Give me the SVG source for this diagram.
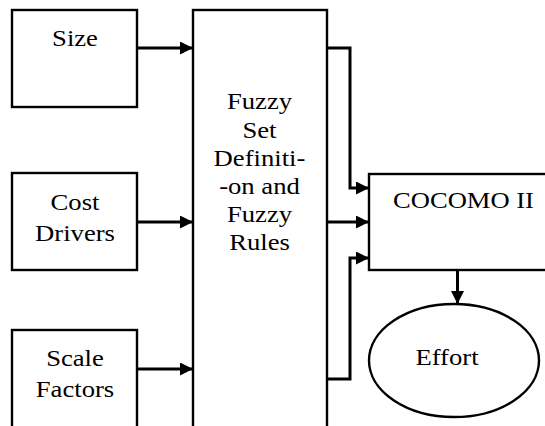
<svg xmlns="http://www.w3.org/2000/svg" width="545" height="426" viewBox="0 0 545 426">
  <style>
    .box { fill: #fff; stroke: #000; stroke-width: 2.4; }
    .wire { fill: none; stroke: #000; stroke-width: 3; }
    .lbl { font-family: "Liberation Serif", "Times New Roman", serif; font-size: 23px; fill: #000; text-anchor: middle; }
  </style>
  <defs>
    <marker id="head" markerUnits="userSpaceOnUse" markerWidth="14" markerHeight="14" refX="13" refY="6.5" orient="auto">
      <path d="M0,0 L13,6.5 L0,13 Z" fill="#000"/>
    </marker>
  </defs>
  <rect width="545" height="426" fill="#fff"/>

  <g id="size">
    <rect class="box" x="12" y="10" width="125" height="97"/>
    <g transform="translate(75 0) scale(1.16 1)"><text class="lbl" x="0" y="46">Size</text></g>
  </g>

  <g id="cost-drivers">
    <rect class="box" x="12" y="173" width="125" height="97"/>
    <g transform="translate(75 0) scale(1.16 1)">
      <text class="lbl" x="0" y="210">Cost</text>
      <text class="lbl" x="0" y="241">Drivers</text>
    </g>
  </g>

  <g id="scale-factors">
    <rect class="box" x="12" y="330" width="125" height="110"/>
    <g transform="translate(75 0) scale(1.16 1)">
      <text class="lbl" x="0" y="366">Scale</text>
      <text class="lbl" x="0" y="397">Factors</text>
    </g>
  </g>

  <g id="fuzzy">
    <rect class="box" x="193" y="10" width="134" height="430"/>
    <g transform="translate(259.5 0) scale(1.16 1)">
      <text class="lbl" x="0" y="109">Fuzzy</text>
      <text class="lbl" x="0" y="138">Set</text>
      <text class="lbl" x="0" y="166">Definiti-</text>
      <text class="lbl" x="0" y="194">-on and</text>
      <text class="lbl" x="0" y="222">Fuzzy</text>
      <text class="lbl" x="0" y="250">Rules</text>
    </g>
  </g>

  <g id="cocomo">
    <rect class="box" x="369" y="174" width="190" height="96"/>
    <g transform="translate(463.5 0) scale(1.155 1)"><text class="lbl" x="0" y="208">COCOMO II</text></g>
  </g>

  <g id="effort">
    <ellipse class="box" cx="454" cy="360.5" rx="85" ry="56.5"/>
    <g transform="translate(447 0) scale(1.16 1)"><text class="lbl" x="0" y="365">Effort</text></g>
  </g>

  <g id="connectors">
    <line class="wire" x1="137" y1="48" x2="193" y2="48" marker-end="url(#head)"/>
    <line class="wire" x1="137" y1="222" x2="193" y2="222" marker-end="url(#head)"/>
    <line class="wire" x1="137" y1="369" x2="193" y2="369" marker-end="url(#head)"/>
    <polyline class="wire" points="327,48 350,48 350,188 369,188" marker-end="url(#head)"/>
    <line class="wire" x1="327" y1="222" x2="369" y2="222" marker-end="url(#head)"/>
    <polyline class="wire" points="327,379 350,379 350,258 369,258" marker-end="url(#head)"/>
    <line class="wire" x1="457.5" y1="270" x2="457.5" y2="304" marker-end="url(#head)"/>
  </g>
</svg>
